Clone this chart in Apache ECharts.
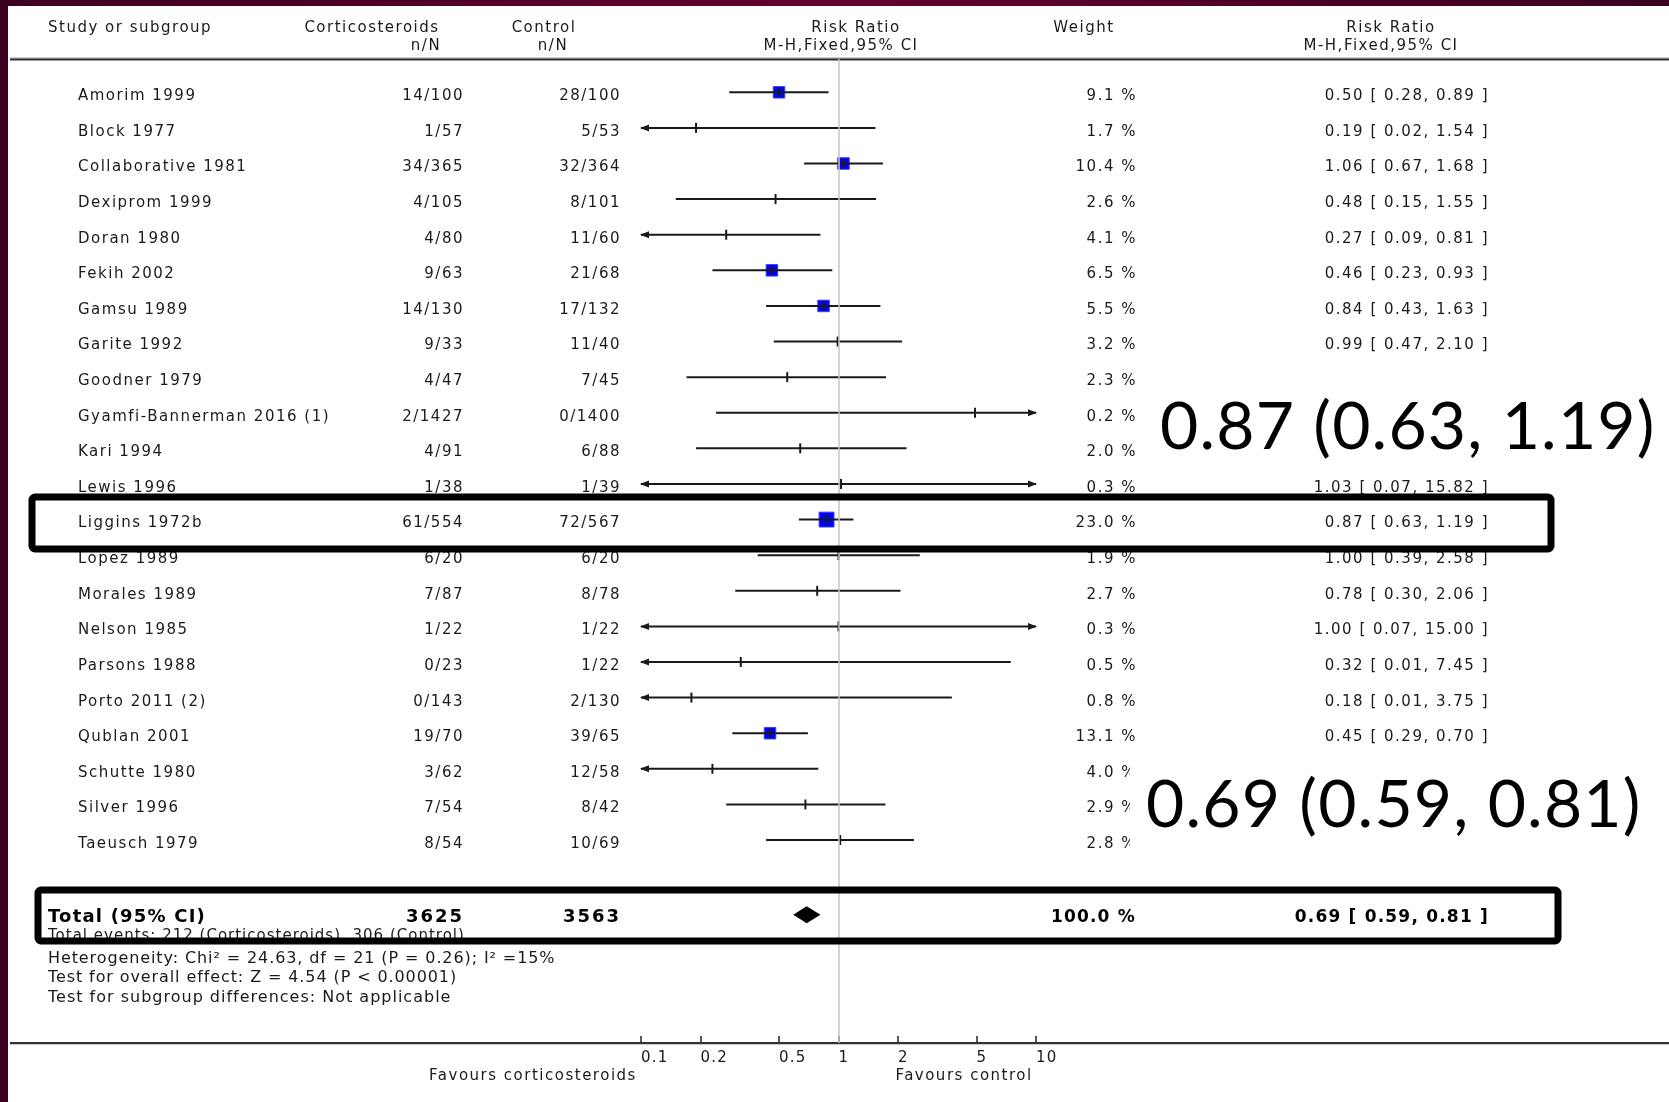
<!DOCTYPE html>
<html>
<head>
<meta charset="utf-8">
<script src="https://cdn.jsdelivr.net/npm/echarts@6/dist/echarts.min.js"></script>
<style>
html,body{margin:0;padding:0;background:#fff;}
#chart{width:1669px;height:1102px;}
</style>
</head>
<body>
<div id="chart"></div>
<script>
// ---------------- DATA ----------------
const studies = ['Amorim 1999','Block 1977','Collaborative 1981','Dexiprom 1999','Doran 1980','Fekih 2002','Gamsu 1989','Garite 1992','Goodner 1979','Gyamfi-Bannerman 2016 (1)','Kari 1994','Lewis 1996','Liggins 1972b','Lopez 1989','Morales 1989','Nelson 1985','Parsons 1988','Porto 2011 (2)','Qublan 2001','Schutte 1980','Silver 1996','Taeusch 1979'];
const corticoNN = ['14/100','1/57','34/365','4/105','4/80','9/63','14/130','9/33','4/47','2/1427','4/91','1/38','61/554','6/20','7/87','1/22','0/23','0/143','19/70','3/62','7/54','8/54'];
const controlNN = ['28/100','5/53','32/364','8/101','11/60','21/68','17/132','11/40','7/45','0/1400','6/88','1/39','72/567','6/20','8/78','1/22','1/22','2/130','39/65','12/58','8/42','10/69'];
const weights = [9.1,1.7,10.4,2.6,4.1,6.5,5.5,3.2,2.3,0.2,2.0,0.3,23.0,1.9,2.7,0.3,0.5,0.8,13.1,4.0,2.9,2.8];
const riskRatio = [0.50,0.19,1.06,0.48,0.27,0.46,0.84,0.99,0.55,4.91,0.64,1.03,0.87,1.00,0.78,1.00,0.32,0.18,0.45,0.23,0.68,1.02];
const ciLow  = [0.28,0.02,0.67,0.15,0.09,0.23,0.43,0.47,0.17,0.24,0.19,0.07,0.63,0.39,0.30,0.07,0.01,0.01,0.29,0.07,0.27,0.43];
const ciHigh = [0.89,1.54,1.68,1.55,0.81,0.93,1.63,2.10,1.74,102.09,2.21,15.82,1.19,2.58,2.06,15.00,7.45,3.75,0.70,0.79,1.73,2.41];

const totalCortico = 3625, totalControl = 3563;
const totalWeight = 100.0;
const totalRR = 0.69, totalLow = 0.59, totalHigh = 0.81;

const tickValues = [0.1, 0.2, 0.5, 1, 2, 5, 10];
const tickLabels = ['0.1', '0.2', '0.5', '1', '2', '5', '10'];

const footerLines = [
  'Total events: 212 (Corticosteroids), 306 (Control)',
  'Heterogeneity: Chi\u00b2 = 24.63, df = 21 (P = 0.26); I\u00b2 =15%',
  'Test for overall effect: Z = 4.54 (P < 0.00001)',
  'Test for subgroup differences: Not applicable'
];
const highlightText1 = '0.87 (0.63, 1.19)';
const highlightText2 = '0.69 (0.59, 0.81)';

// ---------------- letter spacing helper (canvas) ----------------
(function(){
  const P = CanvasRenderingContext2D.prototype;
  const orig = P.fillText;
  P.fillText = function(){
    const m = /zsp(\d+)/.exec(this.font);
    if (m && ('letterSpacing' in this)) {
      const prev = this.letterSpacing;
      this.letterSpacing = (Number(m[1]) / 10) + 'px';
      const r = orig.apply(this, arguments);
      this.letterSpacing = prev;
      return r;
    }
    return orig.apply(this, arguments);
  };
})();
const fam = s => "'zsp" + s + "', 'DejaVu Sans', sans-serif";
const fnt = (size, sp, weight) => (weight || 'normal') + ' ' + size + 'px ' + fam(sp);

// ---------------- LAYOUT ----------------
const W = 1669, H = 1102;
const AX_L = 641, AX_R = 1036, GRID_TOP = 59, AXIS_Y = 1043;
const ROW_MIN = -0.935, ROW_MAX = 26.70;
const TOTAL_ROW = 23.1;
const TXT = '#1a1a1a';
const L10 = Math.log10;

const chart = echarts.init(document.getElementById('chart'), null, {renderer: 'canvas'});

function forestItem(params, api) {
  const v = api.value(0), lo = api.value(1), hi = api.value(2), w = api.value(3), row = api.value(4);
  const c = api.coord([L10(v), row]);
  const y = c[1];
  const xMin = api.coord([-1, row])[0], xMax = api.coord([1, row])[0];
  const xl = Math.max(api.coord([L10(lo), row])[0], xMin);
  const xh = Math.min(api.coord([L10(hi), row])[0], xMax);
  const ch = [];
  if (w >= 5) {
    const s = Math.max(11.5, 3.1 * Math.sqrt(w));
    ch.push({type: 'rect', shape: {x: c[0] - s / 2, y: y - s / 2, width: s, height: s},
      style: {fill: '#0000ff', stroke: '#3d3dff', lineWidth: 1}});
  }
  ch.push({type: 'line', shape: {x1: xl, y1: y, x2: xh, y2: y}, style: {stroke: '#1a1a1a', lineWidth: 2}});
  ch.push({type: 'line', shape: {x1: c[0], y1: y - 5, x2: c[0], y2: y + 5}, style: {stroke: '#1a1a1a', lineWidth: 2}});
  if (lo < 0.1) {
    ch.push({type: 'polygon', shape: {points: [[xMin - 1, y], [xMin + 8, y - 3.5], [xMin + 8, y + 3.5]]}, style: {fill: '#1a1a1a'}});
  }
  if (hi > 10) {
    ch.push({type: 'polygon', shape: {points: [[xMax + 1, y], [xMax - 8, y - 3.5], [xMax - 8, y + 3.5]]}, style: {fill: '#1a1a1a'}});
  }
  return {type: 'group', children: ch};
}

function textItem(params, api) {
  const i = params.dataIndex;
  const y = api.coord([0, api.value(0)])[1] + 4;
  const f = fnt(15, 15);
  const t = (x, text, align) => ({type: 'text', x: x, y: y,
    style: {text: text, fill: TXT, font: f, align: align, verticalAlign: 'middle'}});
  return {type: 'group', children: [
    t(78, studies[i], 'left'),
    t(464, corticoNN[i], 'right'),
    t(621, controlNN[i], 'right'),
    t(1137, weights[i].toFixed(1) + ' %', 'right'),
    t(1489, riskRatio[i].toFixed(2) + ' [ ' + ciLow[i].toFixed(2) + ', ' + ciHigh[i].toFixed(2) + ' ]', 'right')
  ]};
}

function totalItem(params, api) {
  const v = api.value(0), lo = api.value(1), hi = api.value(2), row = api.value(3);
  const c = api.coord([L10(v), row]);
  const y = c[1];
  const xl = api.coord([L10(lo), row])[0], xh = api.coord([L10(hi), row])[0];
  const hh = 8.5;
  const ty = y + 3;
  const bt = (x, text, align, size, sp) => ({type: 'text', x: x, y: ty,
    style: {text: text, fill: '#000', font: fnt(size, sp, 'bold'), align: align, verticalAlign: 'middle'}});
  return {type: 'group', children: [
    {type: 'polygon', shape: {points: [[xl, y], [c[0], y - hh], [xh, y], [c[0], y + hh]]}, style: {fill: '#000'}},
    bt(48, 'Total (95% CI)', 'left', 18, 12),
    bt(464, String(totalCortico), 'right', 18, 20),
    bt(621, String(totalControl), 'right', 18, 20),
    bt(1136, totalWeight.toFixed(1) + ' %', 'right', 17, 12),
    bt(1489, totalRR.toFixed(2) + ' [ ' + totalLow.toFixed(2) + ', ' + totalHigh.toFixed(2) + ' ]', 'right', 17, 12)
  ]};
}

const tickLog = tickValues.map(L10);

const hdr = (x, y, text, align) => ({type: 'text', x: x, y: y, z: 10,
  style: {text: text, fill: TXT, font: fnt(15, 15), align: align || 'center', verticalAlign: 'middle'}});

const graphics = [
  // frame
  {type: 'rect', z: 0, shape: {x: 0, y: 0, width: W, height: 6},
    style: {fill: new echarts.graphic.LinearGradient(0, 0, 1, 0, [
      {offset: 0, color: '#3d0020'}, {offset: 0.5, color: '#62002f'}, {offset: 1, color: '#3a0020'}])}},
  {type: 'rect', z: 0, shape: {x: 0, y: 0, width: 8, height: H}, style: {fill: '#3b0020'}},
  // rules
  {type: 'rect', z: 5, shape: {x: 10, y: 57.5, width: W - 10, height: 1}, style: {fill: '#9a9a9a'}},
  {type: 'rect', z: 5, shape: {x: 10, y: 58.5, width: W - 10, height: 2}, style: {fill: '#2e2e2e'}},
  {type: 'rect', z: 5, shape: {x: 10, y: 1042, width: W - 10, height: 2.2}, style: {fill: '#333'}},
  // headers
  hdr(48, 28, 'Study or subgroup', 'left'),
  hdr(372, 28, 'Corticosteroids'),
  hdr(426, 46, 'n/N'),
  hdr(544, 28, 'Control'),
  hdr(553, 46, 'n/N'),
  hdr(856, 28, 'Risk Ratio'),
  hdr(841, 46, 'M-H,Fixed,95% CI'),
  hdr(1084, 28, 'Weight'),
  hdr(1391, 28, 'Risk Ratio'),
  hdr(1381, 46, 'M-H,Fixed,95% CI'),
  // footer
  {type: 'text', z: 10, x: 48, y: 936, style: {text: footerLines[0], fill: TXT, font: fnt(15, 10), verticalAlign: 'middle'}},
  {type: 'text', z: 10, x: 48, y: 958.5, style: {text: footerLines[1], fill: TXT, font: fnt(16, 9), verticalAlign: 'middle'}},
  {type: 'text', z: 10, x: 48, y: 978, style: {text: footerLines[2], fill: TXT, font: fnt(16, 9), verticalAlign: 'middle'}},
  {type: 'text', z: 10, x: 48, y: 998, style: {text: footerLines[3], fill: TXT, font: fnt(16, 10), verticalAlign: 'middle'}},
  // favours
  {type: 'text', z: 10, x: 533, y: 1076, style: {text: 'Favours corticosteroids', fill: TXT, font: fnt(15, 15), align: 'center', verticalAlign: 'middle'}},
  {type: 'text', z: 10, x: 964, y: 1076, style: {text: 'Favours control', fill: TXT, font: fnt(15, 15), align: 'center', verticalAlign: 'middle'}},
  // highlight boxes
  {type: 'rect', z: 60, shape: {x: 32, y: 497, width: 1519, height: 52, r: 3}, style: {fill: 'none', stroke: '#000', lineWidth: 7}},
  {type: 'rect', z: 60, shape: {x: 38, y: 890, width: 1520, height: 51, r: 3}, style: {fill: 'none', stroke: '#000', lineWidth: 7}},
  // annotations
  {type: 'rect', z: 50, shape: {x: 1140, y: 366, width: W - 1140, height: 104}, style: {fill: '#fff'}},
  {type: 'text', z: 51, x: 1160, y: 428, style: {text: highlightText1, fill: '#000', font: 'normal 66px Lato, "Open Sans", sans-serif', verticalAlign: 'middle'}},
  {type: 'rect', z: 50, shape: {x: 1130, y: 752, width: W - 1130, height: 106}, style: {fill: '#fff'}},
  {type: 'text', z: 51, x: 1146, y: 806, style: {text: highlightText2, fill: '#000', font: 'normal 66px Lato, "Open Sans", sans-serif', verticalAlign: 'middle'}}
];

const option = {
  backgroundColor: '#ffffff',
  animation: false,
  grid: {left: AX_L, right: W - AX_R, top: GRID_TOP, bottom: H - AXIS_Y, containLabel: false},
  xAxis: {
    type: 'value', min: -1, max: 1, position: 'bottom',
    axisLine: {show: false, onZero: false},
    splitLine: {show: false},
    axisTick: {show: true, inside: true, length: 7, customValues: tickLog, lineStyle: {color: '#222', width: 1.5}},
    axisLabel: {show: true, customValues: tickLog, margin: 8, color: TXT, align: 'left',
      fontSize: 15, fontFamily: fam(12),
      formatter: function (v) {
        const k = tickLog.findIndex(t => Math.abs(t - v) < 1e-6);
        return k >= 0 ? tickLabels[k] : '';
      }}
  },
  yAxis: {type: 'value', min: ROW_MIN, max: ROW_MAX, inverse: true, show: false, splitLine: {show: false}},
  graphic: {elements: graphics},
  series: [
    {
      type: 'custom', name: 'text', z: 2,
      data: studies.map((s, i) => [i]),
      encode: {y: 0},
      renderItem: textItem,
      markLine: {
        silent: true, symbol: ['none', 'none'], label: {show: false},
        lineStyle: {color: '#c6c6c6', width: 1.5, type: 'solid'},
        data: [{xAxis: 0}]
      }
    },
    {
      type: 'custom', name: 'studies', z: 3,
      data: studies.map((s, i) => [riskRatio[i], ciLow[i], ciHigh[i], weights[i], i]),
      encode: {x: 0, y: 4},
      renderItem: forestItem
    },
    {
      type: 'custom', name: 'total', z: 3,
      data: [[totalRR, totalLow, totalHigh, TOTAL_ROW]],
      encode: {x: 0, y: 3},
      renderItem: totalItem
    }
  ]
};
chart.setOption(option);
</script>
</body>
</html>
